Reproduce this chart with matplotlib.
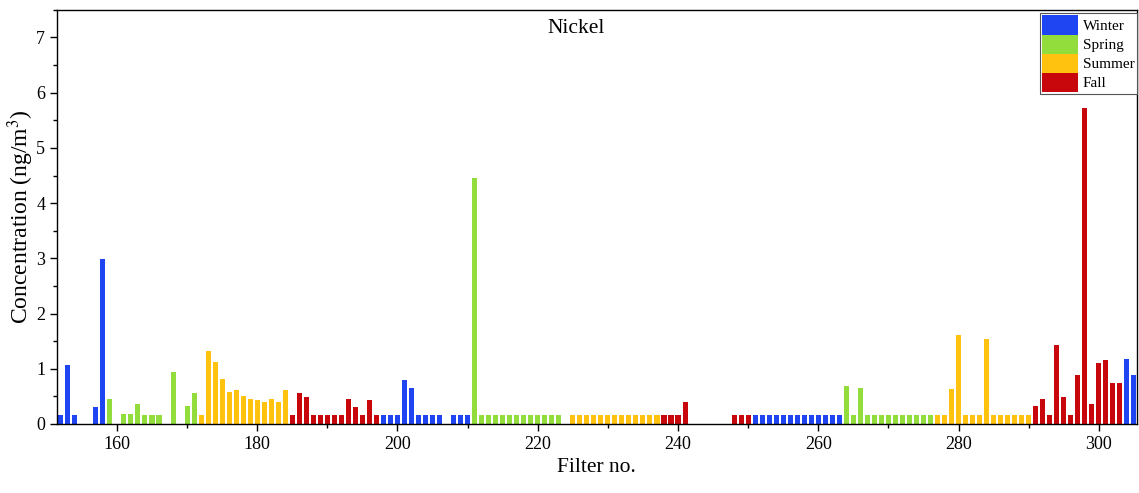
import matplotlib
matplotlib.use("Agg")
import matplotlib.pyplot as plt
from matplotlib.patches import Patch
from matplotlib.ticker import MultipleLocator

plt.rcParams["font.family"] = ["Liberation Serif", "DejaVu Serif"]
plt.rcParams["mathtext.fontset"] = "stix"

# Nickel concentration per filter, grouped by sampling season
winter_filters = [152, 153, 154, 157, 158,
                  198, 199, 200, 201, 202, 203, 204, 205, 206, 208, 209, 210,
                  251, 252, 253, 254, 255, 256, 257, 258, 259, 260, 261, 262, 263,
                  304, 305]
winter_values = [0.16, 1.07, 0.16, 0.31, 2.98,
                 0.16, 0.16, 0.16, 0.80, 0.66, 0.16, 0.16, 0.16, 0.16, 0.16, 0.16, 0.16,
                 0.16, 0.16, 0.16, 0.16, 0.16, 0.16, 0.16, 0.16, 0.16, 0.16, 0.16, 0.16, 0.16,
                 1.17, 0.89]

spring_filters = [159, 161, 162, 163, 164, 165, 166, 168, 170, 171,
                  211, 212, 213, 214, 215, 216, 217, 218, 219, 220, 221, 222, 223,
                  264, 265, 266, 267, 268, 269, 270, 271, 272, 273, 274, 275, 276]
spring_values = [0.45, 0.18, 0.18, 0.36, 0.16, 0.16, 0.16, 0.95, 0.33, 0.56,
                 4.45, 0.16, 0.16, 0.16, 0.16, 0.16, 0.16, 0.16, 0.16, 0.16, 0.16, 0.16, 0.16,
                 0.69, 0.16, 0.65, 0.16, 0.16, 0.16, 0.16, 0.16, 0.16, 0.16, 0.16, 0.16, 0.16]

summer_filters = [172, 173, 174, 175, 176, 177, 178, 179, 180, 181, 182, 183, 184,
                  225, 226, 227, 228, 229, 230, 231, 232, 233, 234, 235, 236, 237,
                  277, 278, 279, 280, 281, 282, 283, 284, 285, 286, 287, 288, 289, 290]
summer_values = [0.17, 1.32, 1.12, 0.81, 0.58, 0.61, 0.51, 0.45, 0.43, 0.39, 0.45, 0.40, 0.62,
                 0.16, 0.16, 0.16, 0.16, 0.16, 0.16, 0.16, 0.16, 0.16, 0.16, 0.16, 0.16, 0.16,
                 0.16, 0.16, 0.63, 1.62, 0.16, 0.16, 0.16, 1.53, 0.16, 0.16, 0.16, 0.16, 0.16, 0.16]

fall_filters = [185, 186, 187, 188, 189, 190, 191, 192, 193, 194, 195, 196, 197,
                238, 239, 240, 241, 248, 249, 250,
                291, 292, 293, 294, 295, 296, 297, 298, 299, 300, 301, 302, 303]
fall_values = [0.16, 0.57, 0.49, 0.16, 0.16, 0.16, 0.16, 0.16, 0.45, 0.31, 0.16, 0.43, 0.16,
               0.16, 0.16, 0.16, 0.40, 0.16, 0.16, 0.16,
               0.33, 0.46, 0.16, 1.43, 0.49, 0.16, 0.89, 5.73, 0.37, 1.11, 1.15, 0.74, 0.75]

seasons = ["Winter", "Spring", "Summer", "Fall"]
colors = ["#1f44f2", "#92dc3c", "#ffc20e", "#c8070d"]

fig = plt.figure(figsize=(11.39, 4.93), dpi=100)
ax = fig.add_axes([0.050, 0.140, 0.948, 0.840])

groups = [(winter_filters, winter_values), (spring_filters, spring_values),
          (summer_filters, summer_values), (fall_filters, fall_values)]
for (xs, ys), color in zip(groups, colors):
    ax.bar(xs, ys, width=0.72, color=color, linewidth=0)

ax.set_xlim(151.45, 305.4)
ax.set_ylim(0, 7.5)
ax.xaxis.set_major_locator(MultipleLocator(20))
ax.xaxis.set_minor_locator(MultipleLocator(10))
ax.yaxis.set_major_locator(MultipleLocator(1))
ax.yaxis.set_minor_locator(MultipleLocator(0.5))
ax.tick_params(which="both", direction="out", top=False, right=False, labelsize=13, width=1)
ax.tick_params(which="major", length=5)
ax.tick_params(which="minor", length=3)
for spine in ax.spines.values():
    spine.set_linewidth(1)

ax.set_xlabel("Filter no.", fontsize=15.5)
ax.set_ylabel("Concentration (ng/m$^3$)", fontsize=17, labelpad=0)
ax.text(0.481, 0.955, "Nickel", transform=ax.transAxes, ha="center", va="center", fontsize=15.5)

handles = [Patch(facecolor=c, edgecolor="none") for c in colors]
leg = ax.legend(handles, seasons, loc="upper right", bbox_to_anchor=(1.0, 0.992),
                borderaxespad=0, fontsize=11, handlelength=2.35, handleheight=1.55,
                labelspacing=0, handletextpad=0.3, borderpad=0.15, fancybox=False,
                framealpha=1)
leg.get_frame().set_edgecolor("#555555")
leg.get_frame().set_linewidth(0.8)

fig.savefig("out.png", dpi=100)
